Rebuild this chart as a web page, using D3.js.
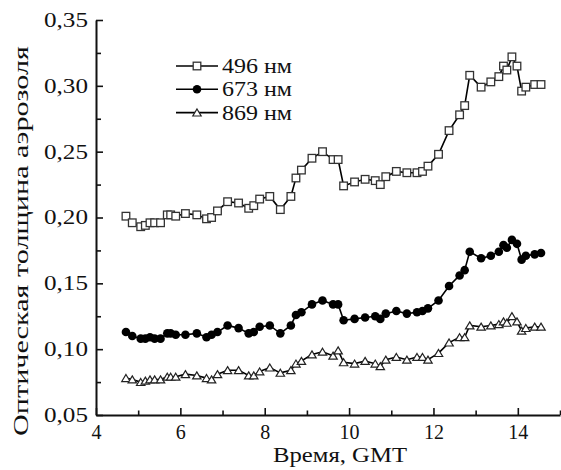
<!DOCTYPE html>
<html>
<head>
<meta charset="utf-8">
<script src="https://cdn.jsdelivr.net/npm/d3@7"></script>
<style>
  body { margin: 0; background: #fff; }
  svg { display: block; }
  svg text { font-family: "Liberation Serif", "Times New Roman", "DejaVu Serif", serif !important; fill: #111; }
</style>
</head>
<body>
<div id="chart"></div>
<script>
const WIDTH = 561;
const HEIGHT = 470;
const MARGINS = {left: 96, right: 1, top: 20, bottom: 55};
const SERIF = "'Liberation Serif', 'Times New Roman', 'DejaVu Serif', serif";

// measurement times, GMT hours
const hours = [4.71, 4.86, 5.06, 5.17, 5.28, 5.39, 5.53, 5.69, 5.77, 5.89,
  6.12, 6.39, 6.62, 6.74, 6.88, 7.12, 7.38, 7.62, 7.74, 7.88,
  8.12, 8.37, 8.62, 8.74, 8.87, 9.12, 9.37, 9.62, 9.74, 9.87,
  10.13, 10.38, 10.62, 10.74, 10.87, 11.12, 11.37, 11.61, 11.74, 11.87,
  12.12, 12.37, 12.62, 12.74, 12.86, 13.13, 13.36, 13.55, 13.66, 13.74,
  13.86, 13.98, 14.09, 14.19, 14.40, 14.55];

const aod496 = [0.201, 0.196, 0.193, 0.194, 0.196, 0.196, 0.196, 0.202, 0.202, 0.201,
  0.203, 0.202, 0.199, 0.200, 0.205, 0.212, 0.211, 0.207, 0.209, 0.214,
  0.216, 0.206, 0.216, 0.230, 0.236, 0.245, 0.250, 0.244, 0.244, 0.224,
  0.227, 0.229, 0.228, 0.225, 0.231, 0.235, 0.234, 0.234, 0.235, 0.239,
  0.248, 0.266, 0.278, 0.285, 0.308, 0.299, 0.303, 0.307, 0.315, 0.312,
  0.322, 0.315, 0.296, 0.299, 0.301, 0.301];

const aod673 = [0.113, 0.110, 0.108, 0.108, 0.109, 0.108, 0.108, 0.112, 0.112, 0.111,
  0.111, 0.112, 0.109, 0.111, 0.113, 0.118, 0.116, 0.112, 0.113, 0.117,
  0.118, 0.112, 0.118, 0.126, 0.128, 0.134, 0.137, 0.134, 0.134, 0.122,
  0.123, 0.124, 0.125, 0.123, 0.127, 0.129, 0.127, 0.128, 0.129, 0.131,
  0.137, 0.148, 0.156, 0.160, 0.174, 0.169, 0.171, 0.174, 0.179, 0.177,
  0.183, 0.180, 0.168, 0.171, 0.172, 0.173];

const aod869 = [0.078, 0.077, 0.075, 0.076, 0.077, 0.077, 0.077, 0.079, 0.079, 0.079,
  0.081, 0.080, 0.078, 0.077, 0.081, 0.084, 0.084, 0.080, 0.080, 0.083,
  0.086, 0.082, 0.084, 0.089, 0.091, 0.096, 0.098, 0.095, 0.099, 0.090,
  0.089, 0.091, 0.089, 0.087, 0.092, 0.094, 0.092, 0.094, 0.094, 0.092,
  0.097, 0.105, 0.109, 0.109, 0.118, 0.117, 0.118, 0.119, 0.121, 0.120,
  0.125, 0.121, 0.114, 0.116, 0.117, 0.117];

const seriesNames = ["496 нм", "673 нм", "869 нм"];
const seriesMarkers = ["square", "circle", "triangle"];

const xTicks = [4, 6, 8, 10, 12, 14];
const xMinorTicks = [5, 7, 9, 11, 13, 15];
const yTicks = [0.05, 0.10, 0.15, 0.20, 0.25, 0.30, 0.35];
const yMinorTicks = [0.075, 0.125, 0.175, 0.225, 0.275, 0.325];

const xLabel = "Время, GMT";
const yLabel = "Оптическая толщина аэрозоля";

const FRAME = d3.select("#chart")
  .append("svg")
    .attr("width", WIDTH)
    .attr("height", HEIGHT);

const X_SCALE = d3.scaleLinear()
  .domain([4, 15])
  .range([MARGINS.left, WIDTH - MARGINS.right]);

const Y_SCALE = d3.scaleLinear()
  .domain([0.05, 0.35])
  .range([HEIGHT - MARGINS.bottom, MARGINS.top]);

const commaFmt = (d) => d3.format(".2f")(d).replace(".", ",");

// x axis, ticks pointing inward
const xAxisG = FRAME.append("g")
  .attr("transform", "translate(0," + Y_SCALE(0.05) + ")");
xAxisG.call(d3.axisBottom(X_SCALE).tickValues(xTicks).tickSize(-7).tickPadding(10).tickSizeOuter(0));
xAxisG.append("g")
  .call(d3.axisBottom(X_SCALE).tickValues(xMinorTicks).tickSize(-4.5).tickFormat("").tickSizeOuter(0))
  .select(".domain").remove();

// y axis
const yAxisG = FRAME.append("g")
  .attr("transform", "translate(" + X_SCALE(4) + ",0)");
yAxisG.call(d3.axisLeft(Y_SCALE).tickValues(yTicks).tickSize(-7).tickPadding(8).tickFormat(commaFmt).tickSizeOuter(0));
yAxisG.append("g")
  .call(d3.axisLeft(Y_SCALE).tickValues(yMinorTicks).tickSize(-5).tickFormat("").tickSizeOuter(0))
  .select(".domain").remove();

FRAME.selectAll("g").attr("font-family", SERIF);
FRAME.selectAll(".domain").attr("stroke", "#111").attr("stroke-width", 2);
FRAME.selectAll(".tick line").attr("stroke", "#111").attr("stroke-width", 1.6);
FRAME.selectAll(".tick text")
  .attr("font-size", "20px")
  .style("font-family", SERIF)
  .attr("fill", "#111");
// the source font is wider: stretch the y labels a little
yAxisG.selectAll(".tick text")
  .attr("textLength", 44)
  .attr("lengthAdjust", "spacingAndGlyphs");

// axis titles
FRAME.append("text")
  .attr("x", 340)
  .attr("y", 462)
  .attr("text-anchor", "middle")
  .attr("font-size", "20px")
  .attr("textLength", 134)
  .attr("lengthAdjust", "spacingAndGlyphs")
  .style("font-family", SERIF)
  .text(xLabel);

FRAME.append("text")
  .attr("transform", "translate(28,241) rotate(-90)")
  .attr("text-anchor", "middle")
  .attr("font-size", "21px")
  .attr("textLength", 390)
  .attr("lengthAdjust", "spacingAndGlyphs")
  .style("font-family", SERIF)
  .text(yLabel);

// marker drawing
function drawMarker(sel, type) {
  if (type === "square") {
    sel.append("rect")
      .attr("x", -3.8).attr("y", -3.8)
      .attr("width", 7.6).attr("height", 7.6)
      .attr("fill", "#fff").attr("stroke", "#333").attr("stroke-width", 1.3);
  } else if (type === "circle") {
    sel.append("circle")
      .attr("r", 4.3)
      .attr("fill", "#000");
  } else {
    sel.append("path")
      .attr("d", "M0,-3.6L4.2,3.4L-4.2,3.4Z")
      .attr("fill", "#fff").attr("stroke", "#222").attr("stroke-width", 1.2)
      .attr("stroke-linejoin", "miter");
  }
}

const allSeries = [aod496, aod673, aod869];
const lineGen = d3.line()
  .x((d, i) => X_SCALE(hours[i]))
  .y((d) => Y_SCALE(d));

allSeries.forEach((vals, s) => {
  FRAME.append("path")
    .datum(vals)
    .attr("d", lineGen)
    .attr("fill", "none")
    .attr("stroke", "#000")
    .attr("stroke-width", 1.6);

  FRAME.append("g")
    .selectAll("g")
    .data(vals)
    .enter()
    .append("g")
      .attr("transform", (d, i) => "translate(" + X_SCALE(hours[i]) + "," + Y_SCALE(d) + ")")
      .each(function () { drawMarker(d3.select(this), seriesMarkers[s]); });
});

// legend
const legend = FRAME.append("g").attr("transform", "translate(176,66)");
seriesNames.forEach((name, i) => {
  const row = legend.append("g").attr("transform", "translate(0," + (i * 23.3) + ")");
  row.append("line")
    .attr("x1", 0).attr("x2", 42)
    .attr("stroke", "#000").attr("stroke-width", 1.6);
  drawMarker(row.append("g").attr("transform", "translate(21,0)"), seriesMarkers[i]);
  row.append("text")
    .attr("x", 46)
    .attr("y", 7)
    .attr("font-size", "20px")
    .attr("textLength", 70)
    .attr("lengthAdjust", "spacingAndGlyphs")
    .style("font-family", SERIF)
    .text(name);
});
</script>
</body>
</html>
